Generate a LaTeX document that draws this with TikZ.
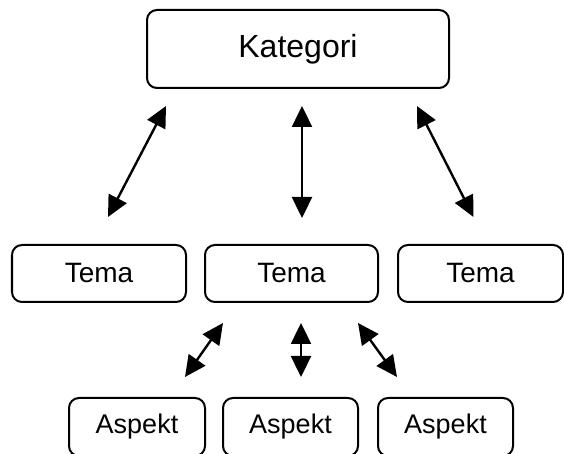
\documentclass[tikz,border=0pt]{standalone}
\usepackage{fontspec}
\setmainfont{Liberation Sans}
\usetikzlibrary{positioning,calc,arrows.meta}

\begin{document}
\begin{tikzpicture}[x=0.5pt, y=-0.5pt, line width=1pt,
    box/.style={draw, rounded corners=5pt, inner sep=0pt, minimum height=28.5pt},
    biarrow/.style={{Triangle[length=10.5pt,width=10pt]}-{Triangle[length=10.5pt,width=10pt]}, line width=1.2pt}]
    \useasboundingbox (0,0) rectangle (564,454);

    % Kategori
    \node [box, minimum width=151pt, minimum height=39pt, font=\fontsize{16}{19}\selectfont] (kat) at (298,49) {Kategori};

    % Tema
    \node [box, minimum width=87pt, font=\fontsize{14}{17}\selectfont] (tema1) at (99,273.5) {Tema};
    \node [box, minimum width=86.5pt, font=\fontsize{14}{17}\selectfont] (tema2) at (291.5,273.5) {Tema};
    \node [box, minimum width=82.5pt, font=\fontsize{14}{17}\selectfont] (tema3) at (480.5,273.5) {Tema};

    % Aspekt
    \node [box, minimum width=68pt, minimum height=29pt, font=\fontsize{13.5}{16}\selectfont] (asp1) at (137,427) {Aspekt};
    \node [box, minimum width=67.5pt, minimum height=29pt, font=\fontsize{13.5}{16}\selectfont] (asp2) at (290.5,427) {Aspekt};
    \node [box, minimum width=67.5pt, minimum height=29pt, font=\fontsize{13.5}{16}\selectfont] (asp3) at (445.5,427) {Aspekt};

    \draw [biarrow] ($(kat.south)+(-132,17)$) -- ($(tema1.north)+(9,-27)$);
    \draw [biarrow] ($(kat.south)+(4,17)$) -- ($(tema2.north)+(10.5,-26)$);
    \draw [biarrow] ($(kat.south)+(119,17)$) -- ($(tema3.north)+(-7,-27)$);

    \draw [biarrow] ($(tema2.south)+(-68.5,20)$) -- ($(asp1.north)+(48,-20)$);
    \draw [biarrow] ($(tema2.south)+(9.5,20)$) -- ($(asp2.north)+(10.5,-20)$);
    \draw [biarrow] ($(tema2.south)+(66.5,20)$) -- ($(asp3.north)+(-48.5,-20)$);
\end{tikzpicture}
\end{document}
